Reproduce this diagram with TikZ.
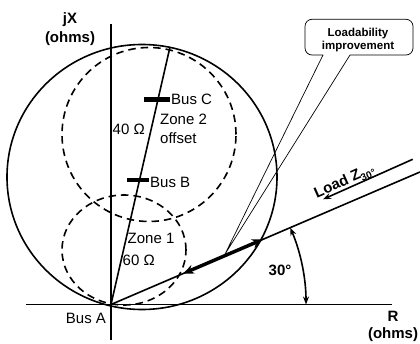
\documentclass[tikz,border=0pt]{standalone}
\usepackage{fontspec}
\setmainfont{Liberation Sans}
\usetikzlibrary{arrows.meta,calc}
\begin{document}
\begin{tikzpicture}[x=1pt,y=1pt,
  lbl/.style={font=\fontsize{15}{17}\selectfont, inner sep=0pt},
  blbl/.style={font=\fontsize{15}{17}\selectfont\bfseries, inner sep=0pt},
  sublbl/.style={font=\fontsize{10}{12}\selectfont\bfseries, inner sep=0pt},
  clbl/.style={font=\fontsize{11.5}{13.5}\selectfont\bfseries, inner sep=0pt, align=center},
  ln/.style={line width=1.6pt},
  thn/.style={line width=0.7pt},
  dsh/.style={line width=1.6pt, dash pattern=on 7.5pt off 5pt},
  tick/.style={line width=4.5pt},
  tip/.style={-{Stealth[length=8pt,width=6pt]}}
]
\useasboundingbox (0,0) rectangle (420,343);
% key points
\coordinate (O) at (111,38.5);
\coordinate (XL) at (26,38.5);
\coordinate (XR) at (392,38.5);
\coordinate (YB) at (111,3);
\coordinate (YT) at (111,319);
\coordinate (LT) at (170,296);
\coordinate (LE) at (420,171);
% axes
\draw[ln] (XL) -- (XR);
\draw[ln] (YB) -- (YT);
% characteristics
\draw[ln] (142,166) ellipse[x radius=135, y radius=132.5];
\draw[dsh] (149,208.5) circle[radius=87];
\draw[dsh] (124,93) ellipse[x radius=62, y radius=55];
% line impedance
\draw[ln] (O) -- (LT);
\coordinate (BC) at (157,243.7);
\coordinate (BB) at (138,163);
\draw[tick] ($(BC)+(-13,0)$) -- ($(BC)+(13,0)$);
\draw[tick] ($(BB)+(-11,0)$) -- ($(BB)+(11,0)$);
% load line
\draw[ln] (O) -- (LE);
\coordinate (A1) at ($(O)!0.233!(LE)$);
\coordinate (A2) at ($(O)!0.492!(LE)$);
\coordinate (PT) at ($(O)!0.369!(LE)+(0,1.5)$);
\draw[line width=3.5pt, {Stealth[length=11pt,width=9pt]}-{Stealth[length=11pt,width=9pt]}] (A1) -- (A2);
% load direction arrow
\coordinate (LA1) at (412.7,183.7);
\coordinate (LA2) at (323,143.7);
\draw[ln, tip] (LA1) -- (LA2);
\node[blbl, rotate=24, anchor=base east] (loadz) at (362,165) {Load Z};
\node[sublbl, rotate=24, anchor=base west] (loadsub) at ($(loadz.base east)+(0.5,-3.5)$) {30°};
% angle arc
\coordinate (AR) at ($(O)+(195,0)$);
\draw[ln, {Stealth[length=8pt,width=6pt]}-{Stealth[length=8pt,width=6pt]}] (AR) arc[start angle=0, end angle=23.2, radius=195];
\node[blbl] (ang) at (280,73) {30°};
% callout
\coordinate (CL) at (323,288);
\coordinate (CR) at (350,288);
\draw[thn, rounded corners=7pt] (CL) -- (305,288) -- (305,323.7) -- (413,323.7) -- (413,288) -- (CR);
\draw[thn] (CL) -- (PT) -- (CR);
\node[clbl] (call) at (358,303) {Loadability\\improvement};
% labels
\node[blbl] (jx) at (70,323) {jX};
\node[blbl] (jxo) at (70,304) {(ohms)};
\node[blbl] (r) at (393,27) {R};
\node[blbl] (ro) at (393,8) {(ohms)};
\node[lbl] (busa) at (86,25) {Bus A};
\node[lbl, anchor=west] (busb) at (150,160.5) {Bus B};
\node[lbl, anchor=west] (busc) at (171,244) {Bus C};
\node[lbl, anchor=west] (z2) at (160,224) {Zone 2};
\node[lbl, anchor=west] (off) at (160,205) {offset};
\node[lbl, anchor=west] (f40) at (112.5,214) {40 Ω};
\node[lbl, anchor=west] (z1) at (127.5,105) {Zone 1};
\node[lbl, anchor=west] (s60) at (122.5,83) {60 Ω};
\end{tikzpicture}
\end{document}
